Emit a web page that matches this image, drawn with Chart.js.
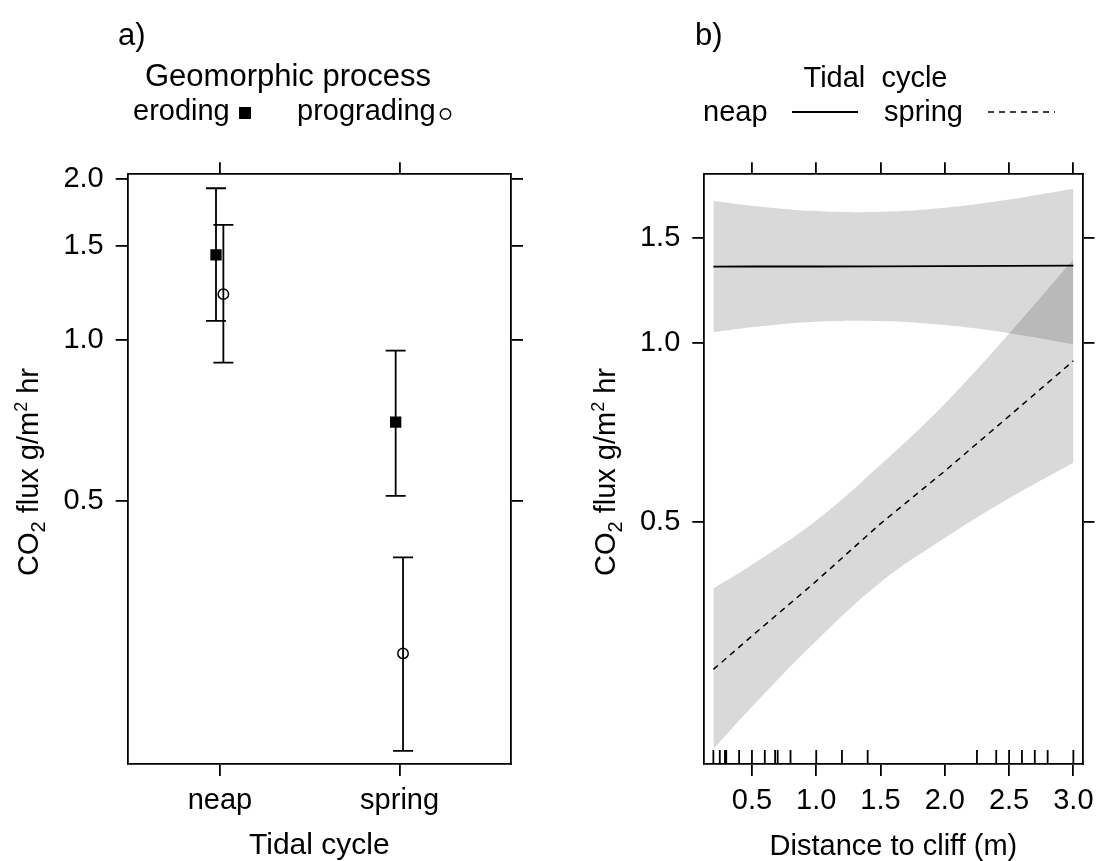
<!DOCTYPE html>
<html>
<head>
<meta charset="utf-8">
<script src="https://cdn.jsdelivr.net/npm/chart.js@4.4.0/dist/chart.umd.min.js"></script>
<style>
  html, body { margin: 0; padding: 0; background: #fff; }
  #wrap { position: relative; width: 1102px; height: 861px; }
  canvas { position: absolute; top: 0; }
  #panelA { left: 0; }
  #panelB { left: 551px; }
</style>
</head>
<body>
<div id="wrap">
  <canvas id="panelA" width="551" height="861"></canvas>
  <canvas id="panelB" width="551" height="861"></canvas>
</div>
<script>
// a) flux by tidal cycle, split by geomorphic process (fit + interval)
const tideLevels = ['neap', 'spring'];
const erodingFlux = [1.443, 0.703];
const erodingLow = [1.087, 0.512];
const erodingHigh = [1.922, 0.956];
const progradingFlux = [1.219, 0.260];
const progradingLow = [0.908, 0.171];
const progradingHigh = [1.642, 0.393];
const fluxTicksA = [0.5, 1.0, 1.5, 2.0];

// b) fitted flux against distance to cliff, one line per tidal cycle
const distance = [0.2, 0.5, 1.0, 1.5, 2.0, 2.5, 3.0];
const neapFit = [1.341, 1.342, 1.342, 1.343, 1.344, 1.345, 1.346];
const neapLow = [1.041, 1.061, 1.084, 1.087, 1.070, 1.037, 0.994];
const neapHigh = [1.730, 1.697, 1.662, 1.658, 1.684, 1.738, 1.812];
const springFit = [0.283, 0.322, 0.398, 0.497, 0.609, 0.753, 0.932];
const springLow = [0.208, 0.245, 0.316, 0.396, 0.470, 0.548, 0.629];
const springHigh = [0.387, 0.424, 0.503, 0.624, 0.790, 1.036, 1.380];
const rugDistance = [0.2, 0.25, 0.29, 0.3, 0.4, 0.5, 0.6, 0.68, 0.7, 0.8, 1.0, 1.2, 1.4,
                     2.25, 2.4, 2.5, 2.6, 2.7, 2.8, 3.0];
const distTicks = [0.5, 1.0, 1.5, 2.0, 2.5, 3.0];
const fluxTicksB = [0.5, 1.0, 1.5];

const FONT = '"Liberation Sans", Arial, sans-serif';
Chart.defaults.font.family = FONT;
Chart.defaults.color = '#000';
Chart.defaults.animation = false;

// framed axis: tick marks outside, optional labels, fixed box size
function axis(pos, type, min, max, values, size, label) {
  const horizontal = pos === 'top' || pos === 'bottom';
  return {
    type: type, position: pos, axis: horizontal ? 'x' : 'y',
    min: min, max: max, bounds: 'data',
    grid: { display: true, drawOnChartArea: false, drawTicks: true, tickLength: 12,
            tickWidth: 1.8, tickColor: '#000', color: '#000', lineWidth: 1.8 },
    border: { display: true, color: '#000', width: 1.8 },
    ticks: { display: !!label, padding: horizontal ? 8 : 12, font: { size: 29 }, color: '#000',
             maxRotation: 0, autoSkip: false, callback: label || (() => '') },
    afterBuildTicks: s => { s.ticks = values.map(v => ({ value: v })); },
    afterFit: s => { if (horizontal) s.height = size; else s.width = size; }
  };
}

// rotated y title with CO2 subscript and m2 superscript
function fluxTitle(ctx, x, y) {
  const parts = [['CO', 29, 0], ['2', 20, 7], [' flux g/m', 29, 0], ['2', 18, -11], [' hr', 29, 0]];
  ctx.save();
  ctx.translate(x, y);
  ctx.rotate(-Math.PI / 2);
  ctx.fillStyle = '#000';
  ctx.textBaseline = 'alphabetic';
  let total = 0;
  parts.forEach(p => { ctx.font = p[1] + 'px ' + FONT; total += ctx.measureText(p[0]).width; });
  let cx = -total / 2;
  parts.forEach(p => {
    ctx.font = p[1] + 'px ' + FONT;
    ctx.fillText(p[0], cx, p[2]);
    cx += ctx.measureText(p[0]).width;
  });
  ctx.restore();
}

function text(ctx, str, x, y, size, align) {
  ctx.font = size + 'px ' + FONT;
  ctx.fillStyle = '#000';
  ctx.textAlign = align || 'left';
  ctx.textBaseline = 'alphabetic';
  ctx.fillText(str, x, y);
}

// vertical interval with caps for every point in panel a
const errorBars = {
  id: 'errorBars',
  afterDatasetsDraw(chart) {
    const ctx = chart.ctx, y = chart.scales.y;
    chart.data.datasets.forEach((ds, di) => {
      chart.getDatasetMeta(di).data.forEach((pt, i) => {
        const top = y.getPixelForValue(ds.high[i]);
        const bot = y.getPixelForValue(ds.low[i]);
        ctx.save();
        ctx.strokeStyle = '#000';
        ctx.lineWidth = 1.8;
        ctx.beginPath();
        ctx.moveTo(pt.x, top); ctx.lineTo(pt.x, bot);
        ctx.moveTo(pt.x - 10, top); ctx.lineTo(pt.x + 10, top);
        ctx.moveTo(pt.x - 10, bot); ctx.lineTo(pt.x + 10, bot);
        ctx.stroke();
        ctx.restore();
      });
    });
  }
};

const keyA = {
  id: 'keyA',
  afterDraw(chart) {
    const ctx = chart.ctx;
    text(ctx, 'a)', 118, 45, 31);
    text(ctx, 'Geomorphic process', 288, 86, 31, 'center');
    text(ctx, 'eroding', 133, 120, 29);
    ctx.fillStyle = '#000';
    ctx.fillRect(239, 107, 12, 12);
    text(ctx, 'prograding', 297, 120, 29);
    ctx.beginPath();
    ctx.arc(445.5, 114, 5.2, 0, Math.PI * 2);
    ctx.lineWidth = 1.5;
    ctx.strokeStyle = '#000';
    ctx.stroke();
    fluxTitle(ctx, chart.chartArea.left - 89.5, 472);
  }
};

const dodgeEroding = -0.022, dodgePrograding = 0.019;

new Chart(document.getElementById('panelA'), {
  type: 'scatter',
  data: {
    datasets: [
      {
        label: 'eroding',
        data: erodingFlux.map((v, i) => ({ x: i + 1 + dodgeEroding, y: v })),
        low: erodingLow, high: erodingHigh,
        pointStyle: 'rect', pointRadius: 8, backgroundColor: '#000', borderColor: '#000', borderWidth: 0
      },
      {
        label: 'prograding',
        data: progradingFlux.map((v, i) => ({ x: i + 1 + dodgePrograding, y: v })),
        low: progradingLow, high: progradingHigh,
        pointStyle: 'circle', pointRadius: 5.2, backgroundColor: 'rgba(0,0,0,0)', borderColor: '#000', borderWidth: 1.5
      }
    ]
  },
  options: {
    responsive: false,
    layout: { padding: 0 },
    plugins: { legend: { display: false }, tooltip: { enabled: false } },
    scales: {
      x: Object.assign(axis('bottom', 'linear', 0.4865, 2.62, [1, 2], 97, v => tideLevels[v - 1]), {
        title: { display: true, text: 'Tidal cycle', font: { size: 30, lineHeight: 1 }, padding: 0, color: '#000' }
      }),
      y: axis('left', 'logarithmic', 0.1616, 2.041, fluxTicksA, 127.7, v => v.toFixed(1)),
      xTop: axis('top', 'linear', 0.4865, 2.62, [1, 2], 174.3),
      yRight: axis('right', 'logarithmic', 0.1616, 2.041, fluxTicksA, 40)
    }
  },
  plugins: [errorBars, keyA]
});

// rug of observed distances along the bottom of panel b
const rug = {
  id: 'rug',
  afterDatasetsDraw(chart) {
    const ctx = chart.ctx, x = chart.scales.x, bottom = chart.chartArea.bottom;
    ctx.save();
    ctx.strokeStyle = '#000';
    ctx.lineWidth = 1.8;
    ctx.beginPath();
    rugDistance.forEach(d => {
      const px = x.getPixelForValue(d);
      ctx.moveTo(px, bottom);
      ctx.lineTo(px, bottom - 14);
    });
    ctx.stroke();
    ctx.restore();
  }
};

const keyB = {
  id: 'keyB',
  afterDraw(chart) {
    const ctx = chart.ctx;
    text(ctx, 'b)', 144, 45, 31);
    text(ctx, 'Tidal  cycle', 324.5, 87, 29, 'center');
    text(ctx, 'neap', 152, 121, 29);
    text(ctx, 'spring', 333, 121, 29);
    ctx.save();
    ctx.strokeStyle = '#000';
    ctx.lineWidth = 1.8;
    ctx.beginPath(); ctx.moveTo(241, 112); ctx.lineTo(307, 112); ctx.stroke();
    ctx.lineWidth = 1.5;
    ctx.setLineDash([6, 5]);
    ctx.beginPath(); ctx.moveTo(437, 112); ctx.lineTo(504, 112); ctx.stroke();
    ctx.restore();
    fluxTitle(ctx, chart.chartArea.left - 89.5, 472);
  }
};

const pts = arr => distance.map((d, i) => ({ x: d, y: arr[i] }));
const band = 'rgba(0,0,0,0.15)';
const edge = { borderWidth: 0, borderColor: 'rgba(0,0,0,0)', pointRadius: 0, tension: 0.4 };

new Chart(document.getElementById('panelB'), {
  type: 'line',
  data: {
    datasets: [
      Object.assign({ label: 'neap upper', data: pts(neapHigh), fill: '+1', backgroundColor: band }, edge),
      Object.assign({ label: 'neap lower', data: pts(neapLow), fill: false }, edge),
      Object.assign({ label: 'spring upper', data: pts(springHigh), fill: '+1', backgroundColor: band }, edge),
      Object.assign({ label: 'spring lower', data: pts(springLow), fill: false }, edge),
      { label: 'neap', data: pts(neapFit), borderColor: '#000', borderWidth: 1.8, pointRadius: 0, fill: false },
      { label: 'spring', data: pts(springFit), borderColor: '#000', borderWidth: 1.5, borderDash: [6, 5], pointRadius: 0, fill: false }
    ]
  },
  options: {
    responsive: false,
    layout: { padding: 0 },
    plugins: { legend: { display: false }, tooltip: { enabled: false } },
    scales: {
      x: Object.assign(axis('bottom', 'linear', 0.1294, 3.071, distTicks, 97, v => v.toFixed(1)), {
        title: { display: true, text: 'Distance to cliff (m)', font: { size: 29, lineHeight: 1 }, padding: 0, color: '#000' }
      }),
      y: axis('left', 'logarithmic', 0.1964, 1.916, fluxTicksB, 153.3, v => v.toFixed(1)),
      xTop: axis('top', 'linear', 0.1294, 3.071, distTicks, 174.3),
      yRight: axis('right', 'logarithmic', 0.1964, 1.916, fluxTicksB, 13.7)
    }
  },
  plugins: [rug, keyB]
});
</script>
</body>
</html>
